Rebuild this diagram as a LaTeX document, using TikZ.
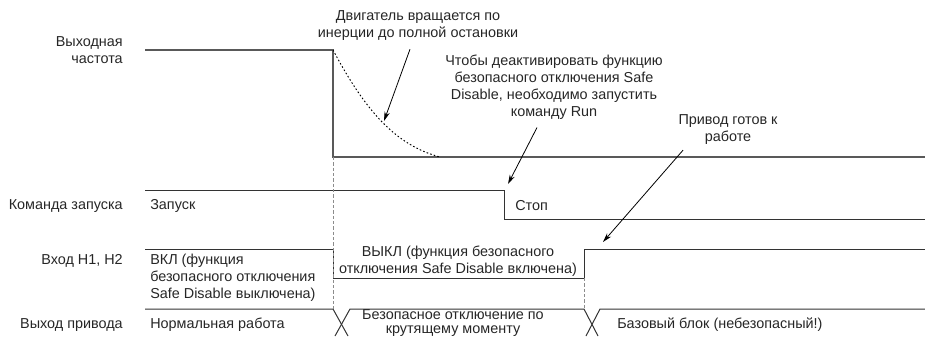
\documentclass[tikz,border=0pt]{standalone}
\usepackage{fontspec}
\setmainfont{Liberation Sans}
\usetikzlibrary{arrows.meta,positioning,calc}

\begin{document}
\begin{tikzpicture}[x=0.75pt,y=-0.75pt,
  every node/.style={inner sep=0pt,text=black!85,font=\fontsize{10.8}{12.75}\selectfont},
  rowlabel/.style={anchor=east,align=right},
  state/.style={anchor=west,align=left},
  note/.style={align=center},
  freq/.style={line width=1.1pt,black!65},
  sig/.style={line width=0.75pt,black!80},
  guide/.style={black!45,line width=0.7pt,dash pattern=on 2.5pt off 1.5pt},
  coastline/.style={line width=0.7pt,dash pattern=on 1.2pt off 1.6pt},
  pointer/.style={-{Stealth[length=7pt,width=4pt]},line width=0.6pt}]
\useasboundingbox (0,0) rectangle (925,336);

% row labels
\node[rowlabel] (lfreq) at (123,50) {Выходная\\частота};
\node[rowlabel] (lcmd) at (123,206) {Команда запуска};
\node[rowlabel] (lhin) at (123,261) {Вход H1, H2};
\node[rowlabel] (lout) at (123,325) {Выход привода};

% output frequency and coasting curve
\draw[freq] (145,50) -- (333,50) -- (333,157) -- (925,157);
\draw[coastline] (333,50) .. controls (365,110) and (395,145) .. (440,157);
\coordinate (coast) at (384,121);

% run command
\draw[sig] (145,190) -- (504,190) -- (504,219) -- (925,219);
\coordinate (stopedge) at (508,184);
\node[state] (run) at (150,206) {Запуск};
\node[state] (stop) at (515,206) {Стоп};

% H1, H2 input
\draw[sig] (145,249) -- (333,249) -- (333,278) -- (584,278) -- (584,249) -- (925,249);
\coordinate (hrise) at (603,242);
\node[state] (hon) at (150,278) {ВКЛ (функция\\безопасного отключения\\Safe Disable выключена)};
\node[note] (hoff) at (458,261) {ВЫКЛ (функция безопасного\\отключения Safe Disable включена)};

% drive output
\draw[sig] (145,309) -- (333,309) -- (348,336);
\draw[sig] (335,336) -- (350,309) -- (584,309) -- (598,336);
\draw[sig] (586,336) -- (600,309) -- (925,309);
\node[state] (normal) at (150,325) {Нормальная работа};
\node[note,font=\fontsize{10.8}{10}\selectfont] (sto) at (453,323) {Безопасное отключение по\\крутящему моменту};
\node[state] (bb) at (617,325) {Базовый блок (небезопасный!)};

% guides
\draw[guide] (333,157) -- (333,309);
\draw[guide] (584,278) -- (584,309);

% annotations
\node[note] (ncoast) at (418,26) {Двигатель вращается по\\инерции до полной остановки};
\node[note] (nrun) at (554,87) {Чтобы деактивировать функцию\\безопасного отключения Safe\\Disable, необходимо запустить\\команду Run};
\node[note] (nready) at (728,130) {Привод готов к\\работе};
\draw[pointer] ($(ncoast.south)+(-8,8)$) -- (coast);
\draw[pointer] ($(nrun.south)+(-17,8)$) -- (stopedge);
\draw[pointer] ($(nready.south)+(-45,5)$) -- (hrise);
\end{tikzpicture}
\end{document}
